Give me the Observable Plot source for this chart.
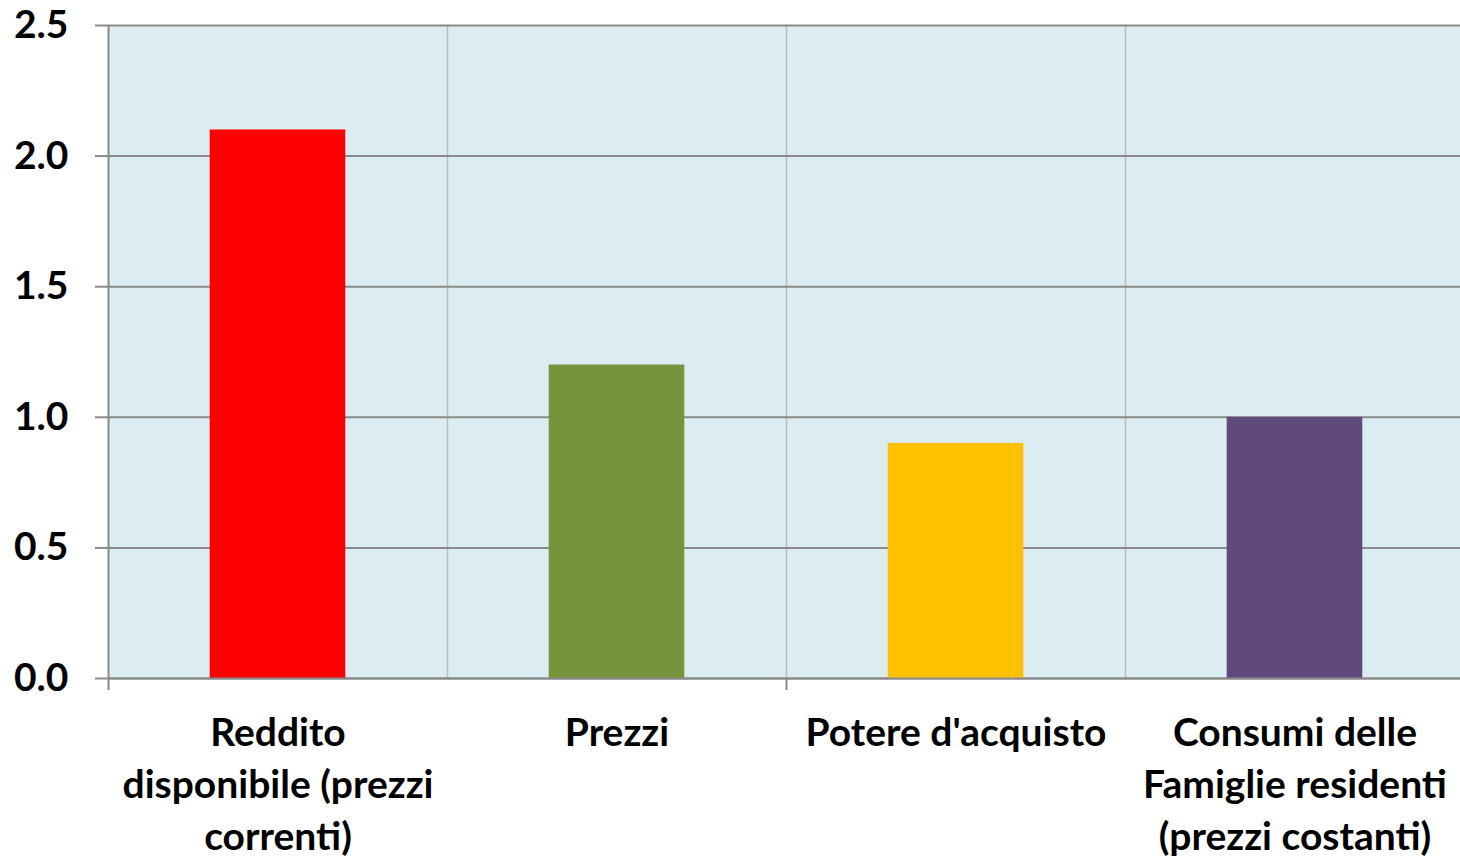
<!DOCTYPE html>
<html>
<head>
<meta charset="utf-8">
<script src="https://cdn.jsdelivr.net/npm/d3@7"></script>
<script src="https://cdn.jsdelivr.net/npm/@observablehq/plot@0.6"></script>
<style>
  html, body { margin: 0; padding: 0; background: #fff; }
  #chart svg { display: block; }
</style>
</head>
<body>
<div id="chart"></div>
<script>
const categories = [
  "Reddito\ndisponibile (prezzi\ncorrenti)",
  "Prezzi",
  "Potere d'acquisto",
  "Consumi delle\nFamiglie residenti\n(prezzi costanti)"
];
const values = [2.1, 1.2, 0.9, 1.0];
const barColors = ["#FF0000", "#77933C", "#FFC000", "#604A7B"];
const yTicks = [0, 0.5, 1.0, 1.5, 2.0, 2.5];

const data = categories.map((c, i) => ({i, category: c, value: values[i], color: barColors[i]}));

const font = "Lato, 'Open Sans', sans-serif";

const chart = Plot.plot({
  width: 1460,
  height: 857,
  marginLeft: 108,
  marginRight: 0,
  marginTop: 25,
  marginBottom: 179,
  style: {fontFamily: font, fontWeight: "bold", fontSize: "39px", color: "#000", background: "#fff", overflow: "hidden"},
  x: {type: "linear", domain: [0, categories.length], range: [108, 1464], axis: null},
  y: {domain: [0, 2.5], axis: null},
  marks: [
    Plot.rect([0], {x1: 0, x2: categories.length, y1: 0, y2: 2.5, fill: "#DBEDF3"}),
    Plot.ruleX(d3.range(1, categories.length), {stroke: "#BDBDBD", strokeWidth: 1.5}),
    Plot.ruleY(yTicks, {stroke: "#8A8A8A", strokeWidth: 2}),
    Plot.ruleX([0], {y1: 0, y2: 2.5, stroke: "#8A8A8A", strokeWidth: 2}),
    Plot.rectY(data, {x1: d => d.i + 0.3, x2: d => d.i + 0.7, y: "value", fill: "color"}),
    Plot.ruleY([0], {stroke: "#8A8A8A", strokeWidth: 2}),
    Plot.axisY({
      ticks: yTicks, tickFormat: d3.format(".1f"), tickSize: 13, tickPadding: 27, label: null,
      stroke: "#8A8A8A", strokeWidth: 2, fontSize: 39, fontWeight: "bold", fill: "#000"
    }),
    Plot.axisX({
      ticks: [0, 2], tickFormat: () => "", tickSize: 12, label: null, stroke: "#8A8A8A", strokeWidth: 2
    }),
    Plot.axisX({
      ticks: categories.map((c, i) => i + 0.5),
      tickFormat: t => categories[Math.floor(t)],
      tickSize: 0, tickPadding: 31, lineHeight: 1.33, label: null,
      fontSize: 39, fontWeight: "bold", fill: "#000"
    })
  ]
});
document.getElementById("chart").appendChild(chart);
</script>
</body>
</html>
